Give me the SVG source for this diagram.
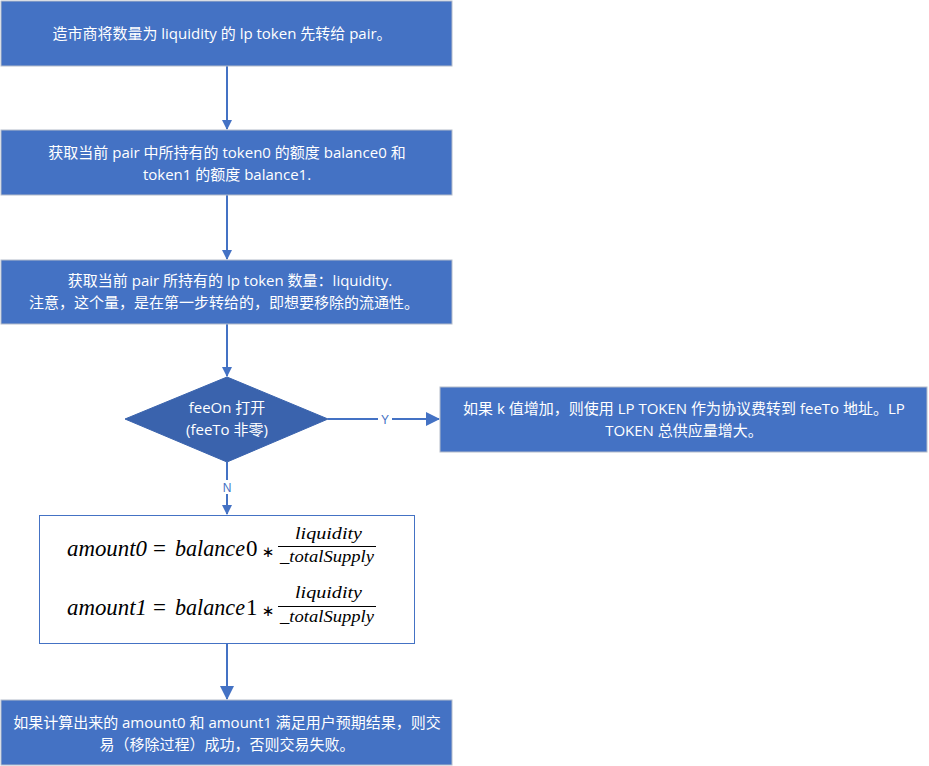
<svg xmlns="http://www.w3.org/2000/svg" width="929" height="766" viewBox="0 0 929 766">
<defs>
<style>
.box{fill:#4472C4;stroke:#B4BCCA;stroke-width:1}
.t{font-family:"Open Sans","Noto Sans CJK SC",sans-serif;font-size:15px;fill:#FFFFFF;text-anchor:middle}
.c{stroke:#4472C4;stroke-width:2;fill:none}
.lbl{font-family:"Liberation Sans","Noto Sans CJK SC",sans-serif;font-size:12px;fill:#4472C4;text-anchor:middle}
.m{font-family:"Liberation Serif",serif;font-style:italic;font-size:23px;fill:#000}
.mu{font-family:"Liberation Serif",serif;font-size:23px;fill:#000}
.op{font-family:"DejaVu Sans",sans-serif;font-size:15px;fill:#000;text-anchor:middle}
.f{font-family:"Liberation Serif",serif;font-style:italic;font-size:17px;fill:#000}
</style>
<marker id="ah" markerWidth="10" markerHeight="10" refX="9" refY="5" orient="auto" markerUnits="userSpaceOnUse">
<path d="M0,0 L10,5 L0,10 z" fill="#4472C4"/>
</marker>
<marker id="ah2" markerWidth="14" markerHeight="14" refX="13" refY="7" orient="auto" markerUnits="userSpaceOnUse">
<path d="M0,0 L14,7 L0,14 z" fill="#4472C4"/>
</marker>
</defs>
<g id="connectors">
<line class="c" x1="227" y1="66" x2="227" y2="129" marker-end="url(#ah)"/>
<line class="c" x1="227" y1="195" x2="227" y2="259" marker-end="url(#ah)"/>
<line class="c" x1="227" y1="324" x2="227" y2="376" marker-end="url(#ah)"/>
<line class="c" x1="328" y1="419" x2="439" y2="419" marker-end="url(#ah2)"/>
<line class="c" x1="227" y1="462" x2="227" y2="514" marker-end="url(#ah)"/>
<line class="c" x1="227" y1="644" x2="227" y2="699" marker-end="url(#ah2)"/>
<rect x="378" y="412" width="14" height="14" fill="#fff"/>
<text class="lbl" x="385" y="424">Y</text>
<rect x="220" y="480" width="14" height="14" fill="#fff"/>
<text class="lbl" x="227" y="492">N</text>
</g>
<g id="n1">
<rect class="box" x="1" y="1" width="451" height="65"/>
<text class="t" x="222" y="39">造市商将数量为 liquidity 的 lp token 先转给 pair。</text>
</g>
<g id="n2">
<rect class="box" x="1" y="130" width="451" height="65"/>
<text class="t" x="227" y="158">获取当前 pair 中所持有的 token0 的额度 balance0 和</text>
<text class="t" x="227" y="180">token1 的额度 balance1.</text>
</g>
<g id="n3">
<rect class="box" x="1" y="260" width="451" height="64"/>
<text class="t" x="230" y="286">获取当前 pair 所持有的 lp token 数量：liquidity.</text>
<text class="t" x="224" y="308">注意，这个量，是在第一步转给的，即想要移除的流通性。</text>
</g>
<g id="n4">
<polygon points="227,377 328,419 227,462 125,419" fill="#3A63AD" stroke="#3A63AD"/>
<text class="t" x="227" y="413">feeOn 打开</text>
<text class="t" x="227" y="435">(feeTo 非零)</text>
</g>
<g id="n5">
<rect class="box" x="440" y="387" width="487" height="65"/>
<text class="t" x="684" y="414">如果 k 值增加，则使用 LP TOKEN 作为协议费转到 feeTo 地址。LP</text>
<text class="t" x="684" y="436">TOKEN 总供应量增大。</text>
</g>
<g id="n6">
<rect x="39.5" y="515.5" width="375" height="128" fill="#fff" stroke="#4472C4" stroke-width="1"/>
<text class="m" x="67" y="556" textLength="80" lengthAdjust="spacingAndGlyphs">amount0</text>
<text class="mu" x="153" y="556">=</text>
<text class="m" x="175" y="556" textLength="70" lengthAdjust="spacingAndGlyphs">balance</text>
<text class="mu" x="246" y="556">0</text>
<text class="op" x="268" y="557">∗</text>
<text class="f" x="295" y="539" textLength="67" lengthAdjust="spacingAndGlyphs">liquidity</text>
<line x1="278" y1="546.5" x2="376" y2="546.5" stroke="#000" stroke-width="1"/>
<text class="f" x="280" y="562" textLength="94" lengthAdjust="spacingAndGlyphs">_totalSupply</text>
<text class="m" x="67" y="615" textLength="80" lengthAdjust="spacingAndGlyphs">amount1</text>
<text class="mu" x="153" y="615">=</text>
<text class="m" x="175" y="615" textLength="70" lengthAdjust="spacingAndGlyphs">balance</text>
<text class="mu" x="246" y="615">1</text>
<text class="op" x="268" y="616">∗</text>
<text class="f" x="295" y="598" textLength="67" lengthAdjust="spacingAndGlyphs">liquidity</text>
<line x1="278" y1="606.5" x2="376" y2="606.5" stroke="#000" stroke-width="1"/>
<text class="f" x="280" y="622" textLength="94" lengthAdjust="spacingAndGlyphs">_totalSupply</text>
</g>
<g id="n7">
<rect class="box" x="1" y="700" width="451" height="65"/>
<text class="t" x="227" y="728">如果计算出来的 amount0 和 amount1 满足用户预期结果，则交</text>
<text class="t" x="227" y="750">易（移除过程）成功，否则交易失败。</text>
</g>
</svg>
